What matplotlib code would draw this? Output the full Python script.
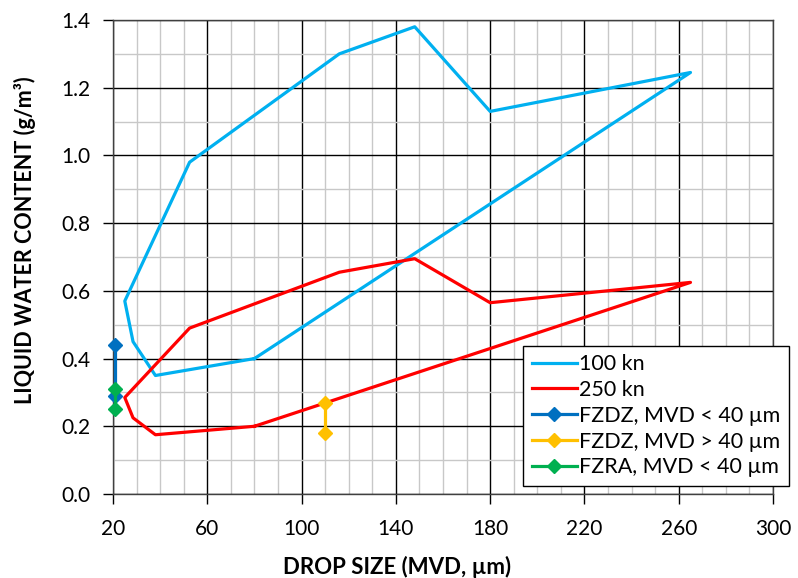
import matplotlib.pyplot as plt
from matplotlib.ticker import MultipleLocator

plt.rcParams['font.family'] = ['Lato', 'DejaVu Sans']

# envelopes (drop size MVD in um, LWC in g/m3)
mvd_100 = [80, 38, 28.5, 25, 52.5, 116, 148, 180, 265, 80]
lwc_100 = [0.40, 0.35, 0.45, 0.57, 0.98, 1.30, 1.38, 1.13, 1.245, 0.40]

mvd_250 = [80, 38, 28.5, 25, 52.5, 116, 148, 180, 265, 80]
lwc_250 = [0.20, 0.175, 0.225, 0.285, 0.49, 0.655, 0.695, 0.565, 0.625, 0.20]

# measured ranges
mvd_fzdz_lo = [21, 21]
lwc_fzdz_lo = [0.44, 0.29]
mvd_fzdz_hi = [110, 110]
lwc_fzdz_hi = [0.27, 0.18]
mvd_fzra = [21, 21]
lwc_fzra = [0.31, 0.25]

x_ticks = [20, 60, 100, 140, 180, 220, 260, 300]

W, H = 798, 578
fig = plt.figure(figsize=(W / 100, H / 100), dpi=100)
ax = fig.add_axes([113 / W, 1 - 494 / H, 660 / W, 474 / H])

ax.plot(mvd_100, lwc_100, color='#00B0F0', lw=2.3, label='100 kn', zorder=3)
ax.plot(mvd_250, lwc_250, color='#FF0000', lw=2.3, label='250 kn', zorder=3)
ax.plot(mvd_fzdz_lo, lwc_fzdz_lo, color='#0070C0', lw=2.3, marker='D', ms=7.5,
        label='FZDZ, MVD < 40 µm', zorder=4, clip_on=False)
ax.plot(mvd_fzdz_hi, lwc_fzdz_hi, color='#FFC000', lw=2.3, marker='D', ms=7.5,
        label='FZDZ, MVD > 40 µm', zorder=4, clip_on=False)
ax.plot(mvd_fzra, lwc_fzra, color='#00B050', lw=2.3, marker='D', ms=7.5,
        label='FZRA, MVD < 40 µm', zorder=4, clip_on=False)

ax.set_xlim(20, 300)
ax.set_ylim(0, 1.4)
ax.set_xticks(x_ticks)
ax.xaxis.set_minor_locator(MultipleLocator(10))
ax.yaxis.set_major_locator(MultipleLocator(0.2))
ax.yaxis.set_minor_locator(MultipleLocator(0.1))
ax.yaxis.set_major_formatter(plt.FormatStrFormatter('%.1f'))

ax.grid(which='minor', color='#C8C8C8', lw=1.0, zorder=0)
ax.grid(which='major', color='black', lw=1.0, zorder=1)
ax.set_axisbelow(True)

ax.tick_params(which='major', direction='out', length=7, width=1, labelsize=15,
               colors='black')
ax.tick_params(axis='x', pad=11)
ax.tick_params(axis='y', pad=9)
ax.tick_params(which='minor', length=0)
for s in ax.spines.values():
    s.set_color('#404040')
    s.set_linewidth(1.0)

fig.text(397 / W, 1 - 567 / H, 'DROP SIZE (MVD, µm)', fontsize=16,
         fontweight='bold', ha='center', va='center')
fig.text(25 / W, 1 - 240 / H, 'LIQUID WATER CONTENT (g/m³)', fontsize=15.5,
         fontweight='bold', ha='center', va='center', rotation=90)

leg = fig.legend(loc='lower left', bbox_to_anchor=(523 / W, (H - 486) / H),
                 bbox_transform=fig.transFigure, fontsize=15.5, frameon=True,
                 fancybox=False, edgecolor='black', framealpha=1,
                 handlelength=2.1, handletextpad=0.12, labelspacing=0.27,
                 borderpad=0.4, borderaxespad=0)
leg.get_frame().set_linewidth(1.0)

fig.savefig('out.png', dpi=100)
